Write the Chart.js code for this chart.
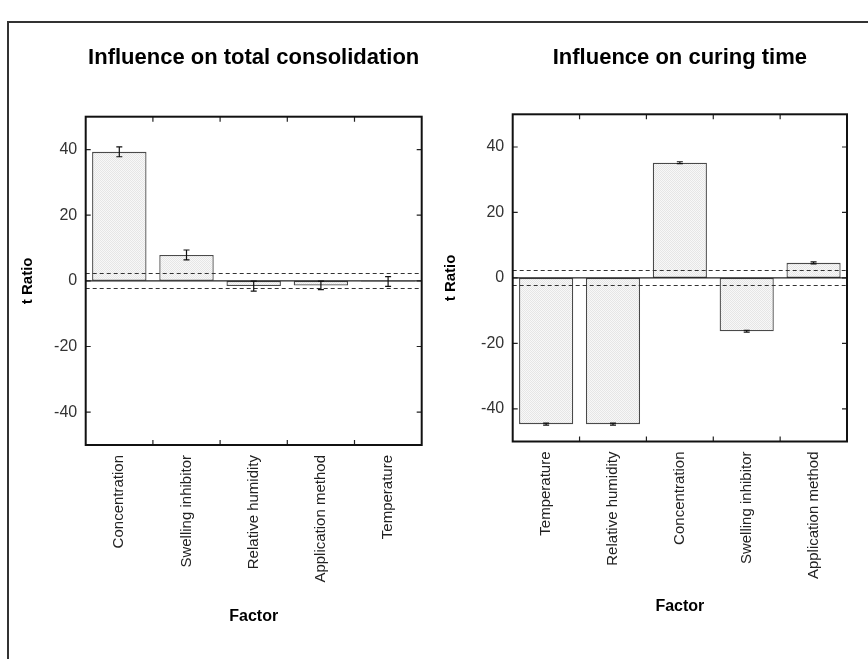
<!DOCTYPE html>
<html>
<head>
<meta charset="utf-8">
<script src="https://cdn.jsdelivr.net/npm/chart.js@4.4.0/dist/chart.umd.min.js"></script>
<style>
  html, body { margin: 0; padding: 0; background: #fff; overflow: hidden; width: 868px; height: 659px; }
  #frame { position: absolute; left: 7px; top: 21px; width: 900px; height: 700px; border: 2px solid #333; box-sizing: border-box; }
  .wrap { position: absolute; top: 0; width: 434px; height: 659px; }
  #w1 { left: 0; }
  #w2 { left: 434px; }
</style>
</head>
<body>
<div id="frame"></div>
<div class="wrap" id="w1"><canvas id="c1" width="434" height="659"></canvas></div>
<div class="wrap" id="w2"><canvas id="c2" width="434" height="659"></canvas></div>
<script>
// ---- data ----
const leftTitle = 'Influence on total consolidation';
const leftCategories = ['Concentration', 'Swelling inhibitor', 'Relative humidity', 'Application method', 'Temperature'];
const leftValues = [39.3, 7.9, -1.6, -1.4, -0.2];
const leftErrors = [1.5, 1.5, 1.5, 1.3, 1.5];

const rightTitle = 'Influence on curing time';
const rightCategories = ['Temperature', 'Relative humidity', 'Concentration', 'Swelling inhibitor', 'Application method'];
const rightValues = [-44.7, -44.7, 35.2, -16.3, 4.6];
const rightErrors = [0.3, 0.3, 0.3, 0.3, 0.3];

const yTickValues = [-40, -20, 0, 20, 40];
const yMin = -50, yMax = 50;
const criticalT = [2.3, -2.3];

// ---- styling helpers ----
const FONT = "'Liberation Sans', Arial, sans-serif";

function makePattern() {
  const p = document.createElement('canvas');
  p.width = 2; p.height = 2;
  const g = p.getContext('2d');
  g.fillStyle = '#f8f8f8'; g.fillRect(0, 0, 2, 2);
  g.fillStyle = '#e6e6e6'; g.fillRect(0, 0, 1, 1); g.fillRect(1, 1, 1, 1);
  return g.createPattern(p, 'repeat');
}

const decorPlugin = {
  id: 'decor',
  afterDatasetsDraw(chart, args, opts) {
    const ctx = chart.ctx;
    const a = chart.chartArea;
    const xs = chart.scales.x, ys = chart.scales.y;
    ctx.save();
    // critical t dashed lines
    ctx.strokeStyle = '#333';
    ctx.lineWidth = 1;
    ctx.setLineDash([4, 3]);
    criticalT.forEach(v => {
      const y = Math.round(ys.getPixelForValue(v)) + 0.5;
      ctx.beginPath(); ctx.moveTo(a.left, y); ctx.lineTo(a.right, y); ctx.stroke();
    });
    ctx.setLineDash([]);
    // zero line
    ctx.strokeStyle = '#222';
    ctx.lineWidth = 1.3;
    const y0 = ys.getPixelForValue(0);
    ctx.beginPath(); ctx.moveTo(a.left, y0); ctx.lineTo(a.right, y0); ctx.stroke();
    // error bars
    const vals = opts.values, errs = opts.errors;
    ctx.strokeStyle = '#111';
    ctx.lineWidth = 1.2;
    vals.forEach((v, i) => {
      const x = xs.getPixelForValue(i);
      const yt = ys.getPixelForValue(v + errs[i]);
      const yb = ys.getPixelForValue(v - errs[i]);
      ctx.beginPath();
      ctx.moveTo(x, yt); ctx.lineTo(x, yb);
      ctx.moveTo(x - 3, yt); ctx.lineTo(x + 3, yt);
      ctx.moveTo(x - 3, yb); ctx.lineTo(x + 3, yb);
      ctx.stroke();
    });
    // inward tick marks
    ctx.strokeStyle = '#222';
    ctx.lineWidth = 1.2;
    yTickValues.forEach(v => {
      const y = ys.getPixelForValue(v);
      ctx.beginPath();
      ctx.moveTo(a.left, y); ctx.lineTo(a.left + 5, y);
      ctx.moveTo(a.right, y); ctx.lineTo(a.right - 5, y);
      ctx.stroke();
    });
    for (let i = 0; i < vals.length - 1; i++) {
      const x = (xs.getPixelForValue(i) + xs.getPixelForValue(i + 1)) / 2;
      ctx.beginPath();
      ctx.moveTo(x, a.top); ctx.lineTo(x, a.top + 5);
      ctx.moveTo(x, a.bottom); ctx.lineTo(x, a.bottom - 5);
      ctx.stroke();
    }
    // frame
    ctx.strokeStyle = '#111';
    ctx.lineWidth = 2;
    ctx.strokeRect(a.left, a.top, a.right - a.left, a.bottom - a.top);
    ctx.restore();
  }
};

function build(canvasId, cfg) {
  return new Chart(document.getElementById(canvasId), {
    type: 'bar',
    data: {
      labels: cfg.categories,
      datasets: [{
        data: cfg.values,
        backgroundColor: makePattern(),
        borderColor: '#4a4a4a',
        borderWidth: 1.3,
        borderSkipped: false,
        barPercentage: 0.81,
        categoryPercentage: 1.0
      }]
    },
    options: {
      responsive: false,
      animation: false,
      events: [],
      layout: { padding: { left: 0, right: cfg.padRight, top: 0, bottom: 0 } },
      plugins: {
        legend: { display: false },
        tooltip: { enabled: false },
        title: {
          display: true,
          text: cfg.title,
          fullSize: false,
          color: '#000',
          font: { family: FONT, size: 22, weight: 'bold' },
          padding: { top: cfg.titleTop, bottom: cfg.titleBottom }
        },
        decor: { values: cfg.values, errors: cfg.errors }
      },
      scales: {
        x: {
          type: 'category',
          offset: true,
          grid: { display: false, drawTicks: false },
          border: { display: false },
          ticks: {
            autoSkip: false,
            maxRotation: 90, minRotation: 90,
            padding: 10,
            color: '#222',
            font: { family: FONT, size: 15 }
          },
          title: {
            display: true, text: 'Factor', color: '#000',
            font: { family: FONT, size: 16, weight: 'bold' },
            padding: { top: 0, bottom: cfg.factorPad }
          },
          afterFit: s => { s.height = cfg.xHeight; }
        },
        y: {
          min: yMin, max: yMax,
          grid: { display: false, drawTicks: false },
          border: { display: false },
          afterBuildTicks: s => { s.ticks = yTickValues.map(v => ({ value: v })); },
          ticks: {
            padding: 8.5,
            color: '#333',
            font: { family: FONT, size: 16 }
          },
          title: {
            display: true, text: 't Ratio', color: '#000',
            font: { family: FONT, size: 15, weight: 'bold' },
            padding: { top: cfg.yTitlePad, bottom: 0 }
          },
          afterFit: s => { s.width = cfg.yWidth; }
        }
      }
    },
    plugins: [decorPlugin]
  });
}

build('c1', {
  title: leftTitle, categories: leftCategories, values: leftValues, errors: leftErrors,
  padRight: 12.3, titleTop: 44.8, titleBottom: 45.5, xHeight: 214, factorPad: 32.4,
  yWidth: 85.7, yTitlePad: 19
});
build('c2', {
  title: rightTitle, categories: rightCategories, values: rightValues, errors: rightErrors,
  padRight: 21, titleTop: 44.8, titleBottom: 43.1, xHeight: 217.5, factorPad: 42.4,
  yWidth: 78.7, yTitlePad: 8
});
</script>
</body>
</html>
